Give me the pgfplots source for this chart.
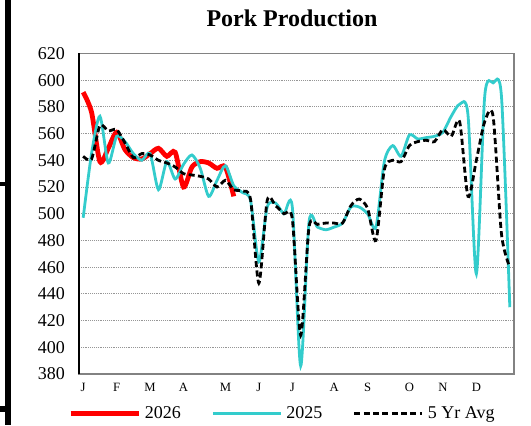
\documentclass[border=0pt]{standalone}
\usepackage{pgfplots}
\pgfplotsset{compat=1.18}
\usepackage{fontspec}
\setmainfont{Liberation Serif}
\definecolor{cyanline}{RGB}{51,204,204}
\definecolor{boxgray}{RGB}{130,130,130}
\definecolor{gridgray}{RGB}{150,150,150}
\pgfplotsset{mylegimg/.style={legend image code/.code={\draw[#1] (0pt,0pt) -- (51pt,0pt);}}}
\pgfplotstableread{
w v
1 591
2 576
3 539
4 549
5 561
6 548
7 542
8 541
9 545
10 549
11 543
12 546
13 520
14 535
15 539
16 538
17 534
18 535
19 513
}\tblA
\pgfplotstableread{
w v
1 497
2 545
3 573
4 538
5 558
6 554
7 545
8 540
9 545
10 518
11 539
12 526
13 537
14 544
15 534
16 513
17 525
18 536
19 521
20 516
21 510
22 464
23 505
24 508
25 500
26 505
27 386
28 494
29 490
30 488
31 490
32 493
33 505
34 505
35 500
36 490
37 539
38 551
39 543
40 559
41 556
42 557
43 558
44 561
45 573
46 582
47 574
48 455
49 588
50 598
51 588
52 430
}\tblB
\pgfplotstableread{
w v
1 543
2 541
3 566
4 562
5 563
6 553
7 542
8 545
9 544
10 540
11 538
12 535
13 530
14 529
15 528
16 526
17 520
18 525
19 518
20 517
21 511
22 448
23 510
24 506
25 500
26 496
27 409
28 490
29 492
30 493
31 493
32 493
33 506
34 511
35 504
36 480
37 533
38 540
39 539
40 551
41 554
42 555
43 554
44 563
45 558
46 569
47 513
48 540
49 569
50 573
51 485
52 460
}\tblC
\begin{document}
\begin{tikzpicture}
\useasboundingbox (0,0) rectangle (398.25pt,318.75pt);
% left bracket from the surrounding page
\fill[black] (3.75pt,0) rectangle (8.5pt,318.75pt);
\fill[black] (0,179.25pt) rectangle (8pt,182.25pt);
\fill[black] (0,10pt) rectangle (8pt,14pt);
\node[font=\fontsize{18}{20}\selectfont\bfseries] at (219pt,305.25pt) {Pork Production};
\begin{axis}[
  at={(59.25pt,38.25pt)}, anchor=south west,
  scale only axis, width=326.25pt, height=240.4pt,
  xmin=0.5, xmax=52.5, ymin=380, ymax=620,
  ytick={380,400,...,620},
  xtick={1,5,9,13,18,22,26,31,35,40,44,48},
  xticklabels={J,F,M,A,M,J,J,A,S,O,N,D},
  major tick length=0pt,
  /pgf/number format/assume math mode=true,
  yticklabel style={font=\fontsize{13.5}{14}\selectfont, xshift=-7pt},
  xticklabel style={font=\fontsize{9.5}{10}\selectfont, yshift=-3pt},
  ymajorgrids, grid style={densely dotted, gridgray, line width=0.6pt},
  axis line style={boxgray, line width=1.4pt},
  legend style={at={(-0.025,-0.122)}, anchor=west, draw=none, fill=none,
    inner sep=0pt, outer sep=0pt, font=\fontsize{13.5}{14}\selectfont,
    legend columns=3,
    /tikz/every odd column/.append style={column sep=1pt},
    /tikz/every even column/.append style={column sep=21pt}},
  mylegimg,
  clip=false,
]
\addplot[red, line width=3.6pt, smooth, tension=0.45] table[x=w,y=v]{\tblA};
\addlegendentry{2026}
\addplot[cyanline, line width=2.1pt, smooth, tension=0.45] table[x=w,y=v]{\tblB};
\addlegendentry{2025}
\addplot[black, line width=2.1pt, dash pattern=on 4.5pt off 2.5pt, smooth, tension=0.45] table[x=w,y=v]{\tblC};
\addlegendentry{5 Yr Avg}
\draw[black, line width=1.4pt] (rel axis cs:0,0) -- (rel axis cs:0,1);
\end{axis}
\end{tikzpicture}
\end{document}
